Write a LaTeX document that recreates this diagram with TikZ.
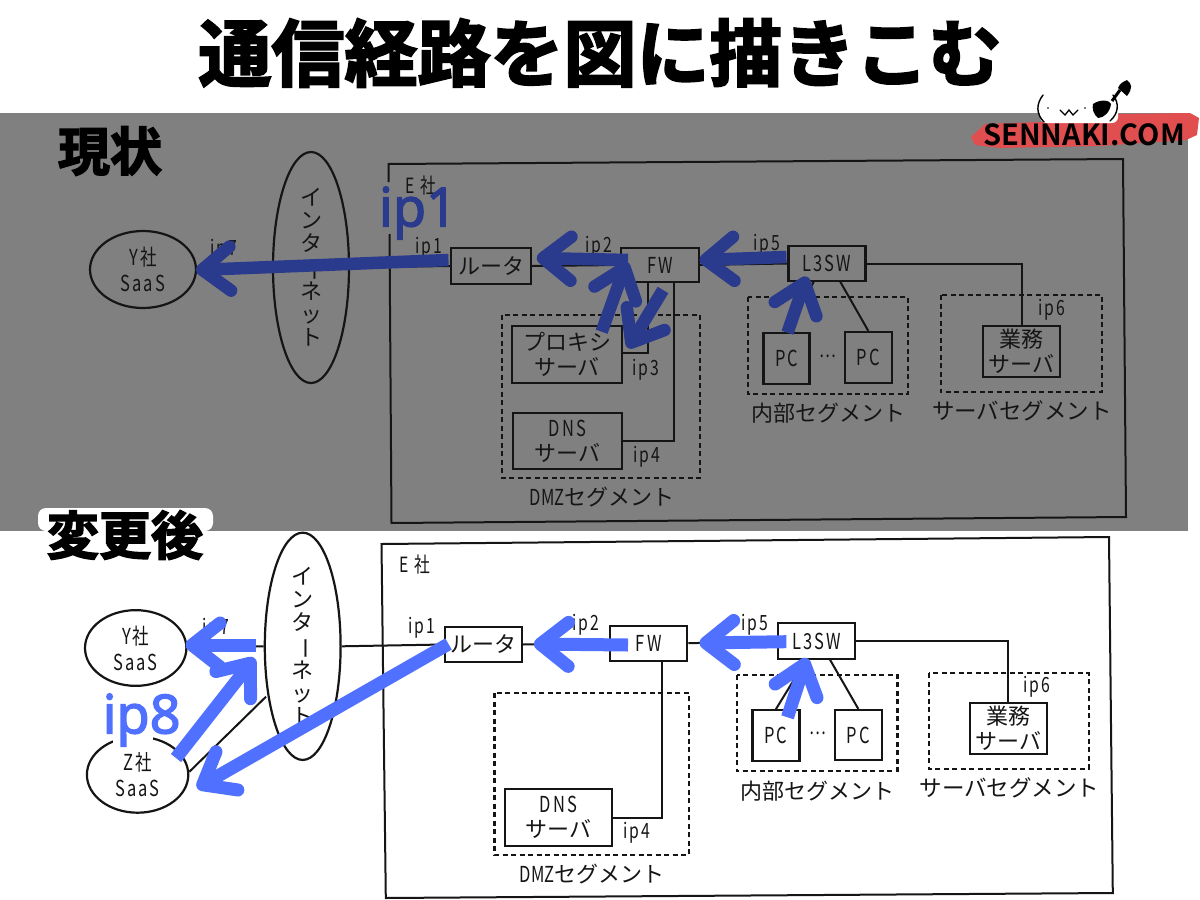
\documentclass[tikz,border=0pt]{standalone}
\usepackage{fontspec}
\usetikzlibrary{arrows.meta,shapes.geometric}
\newfontfamily\scanjp{Noto Sans CJK JP}
\newfontfamily\scannar[FakeStretch=0.75]{Noto Sans CJK JP}
\newfontfamily\scanip[FakeStretch=0.75,LetterSpace=9]{Noto Sans CJK JP}
\newfontfamily\headjp[FakeBold=3]{Noto Sans CJK JP Bold}
\newfontfamily\logofont{Noto Sans CJK JP Bold}
\newfontfamily\bigip[FakeBold=2.4]{Noto Sans}
\definecolor{bandgrey}{HTML}{808080}
\definecolor{inkdark}{HTML}{2A3A8C}
\definecolor{inkbright}{HTML}{5070FF}
\definecolor{brushred}{HTML}{E04E50}
\definecolor{scan}{HTML}{151515}
\tikzset{
  wire/.style={draw=scan,line width=2pt},
  box/.style={draw=scan,line width=2.2pt,inner sep=0pt,align=center,text=scan,rectangle,font=\fontsize{22}{25}\selectfont\scanjp},
  boxlat/.style={box,font=\fontsize{22}{25}\selectfont\scanip},
  cloud/.style={draw=scan,line width=2.2pt,ellipse,inner sep=0pt,align=center,text=scan,font=\fontsize{22}{26}\selectfont\scanip},
  netcloud/.style={cloud,font=\fontsize{22}{23}\selectfont\scanjp},
  seg/.style={draw=scan,line width=2.2pt,dash pattern=on 5pt off 3.5pt},
  lab/.style={text=scan,inner sep=0pt,font=\fontsize{22}{24}\selectfont\scanjp},
  iplab/.style={text=scan,inner sep=0pt,font=\fontsize{21}{22}\selectfont\scanip},
  arrdark/.style={draw=inkdark,line width=12.5pt,-{Straight Barb[round,length=28pt,width=44pt,line width=12.5pt]}},
  arrbright/.style={draw=inkbright,line width=13pt,-{Straight Barb[round,length=28pt,width=44pt,line width=13pt]}},
  heading/.style={text=black,inner sep=0pt,font=\fontsize{52}{56}\selectfont\headjp},
  bigiplab/.style={inner sep=0pt,font=\fontsize{54}{58}\selectfont\bigip},
}
\newcommand{\vertnet}{イ\\ン\\タ\\\rotatebox[origin=c]{-90}{ー}\\ネ\\ッ\\ト}
\begin{document}
\begin{tikzpicture}[x=1pt,y=-1pt]
\useasboundingbox (0,0) rectangle (1200,900);
\fill[white] (0,0) rectangle (1200,900);
\fill[bandgrey] (0,113) rectangle (1188,531);

% title
\node[text=black,inner sep=0pt,font=\fontsize{73}{76}\selectfont\headjp] (title) at (600,53) {通信経路を図に描きこむ};

% logo
\fill[brushred] (971,137) -- (985,124) -- (1040,122) -- (1120,114) -- (1190,113) -- (1199,118) -- (1197,135) -- (1186,140) -- (1100,146) -- (1000,148) -- (975,145) -- cycle;
\fill[white,rounded corners=6pt] (1040,92) rectangle (1118,123);
\draw[black,line width=1.4pt,line cap=round] (1043,95) .. controls (1036,104) and (1036,114) .. (1044,122);
\draw[black,line width=1.4pt,line cap=round] (1113,95) .. controls (1120,104) and (1118,114) .. (1110,121);
\fill[black] (1048,108) circle (0.9pt) (1085,108) circle (0.9pt);
\draw[black,line width=1.3pt,line cap=round] (1060,110) -- (1065,115) -- (1069,110) -- (1073,115) -- (1078,110);
\fill[black] (1093,104) .. controls (1100,99) and (1110,100) .. (1111,104) .. controls (1110,112) and (1104,118) .. (1098,118) .. controls (1093,114) and (1092,108) .. (1093,104) -- cycle;
\draw[black,line width=3pt] (1112,101) -- (1120,90);
\fill[black] (1118,88) .. controls (1120,83) and (1123,82) .. (1127,80) .. controls (1132,84) and (1133,88) .. (1127,96) -- cycle;
\node[text=black,inner sep=0pt,font=\fontsize{29}{30}\selectfont\logofont] (logo) at (1084,135) {SENNAKI.COM};

% ---------- upper panel ----------
\node[heading] (genjo) at (110,151) {現状};
\draw[wire] (388.5,182) -- (388.5,164) -- (1123,159) -- (1126,517) -- (391.5,523) -- (389.5,234);
\node[iplab] (eu) at (421,186) {E 社};

\draw[seg] (501.7,315) rectangle (700,477.7);
\draw[seg] (748,297) rectangle (908,394);
\draw[seg] (940.6,295) rectangle (1102,392);

\node[cloud,minimum width=106pt,minimum height=77pt] (yu) at (143,269.5) {Y社\\SaaS};
\node[netcloud,minimum width=76pt,minimum height=231pt] (iu) at (311,267.5) {\vertnet};
\node[box,minimum width=80pt,minimum height=36pt] (ru) at (491,266) {ルータ};
\node[boxlat,minimum width=77.7pt,minimum height=34.6pt] (fu) at (660,265) {FW};
\node[boxlat,minimum width=77pt,minimum height=35.6pt] (lu) at (827,263.5) {L3SW};
\node[box,minimum width=77.7pt,minimum height=50.7pt] (su) at (1021.5,351.3) {業務\\サーバ};
\node[boxlat,minimum width=46pt,minimum height=51pt] (p1u) at (786.5,358.5) {PC};
\node[boxlat,minimum width=46.6pt,minimum height=51pt] (p2u) at (868.3,357.5) {PC};
\node[box,minimum width=110pt,minimum height=56.7pt] (xu) at (567,354.3) {プロキシ\\サーバ};
\node[box,minimum width=109pt,minimum height=56.3pt] (du) at (567.4,441) {\scanip DNS\\\scanjp サーバ};

\coordinate (c3u) at (648,353);
\coordinate (c4u) at (673.5,441);
\coordinate (lau) at (840,281.3);
\coordinate (lbu) at (814,281.3);
\draw[wire] (yu.east) -- (iu.west);
\draw[wire] (iu.east) -- (ru.west);
\draw[wire] (ru.east) -- (fu.west);
\draw[wire] (fu.east) -- (lu.west);
\draw[wire] (lu.east) -| (su.north);
\draw[wire] (fu.south -| c3u) -- (c3u) -- (c3u -| xu.east);
\draw[wire] (fu.south -| c4u) -- (c4u) -- (du.east);
\draw[wire] (lau) -- (p2u.north);
\draw[wire] (lbu) -- (p1u.north);

\node[iplab] (u7) at (224,250) {ip7};
\node[iplab] (u1) at (428.6,248) {ip1};
\node[iplab] (u2) at (599,246.7) {ip2};
\node[iplab] (u5) at (766.5,245) {ip5};
\node[iplab] (u3) at (645.7,370) {ip3};
\node[iplab] (u4) at (646.7,456.7) {ip4};
\node[iplab] (u6) at (1051.6,310) {ip6};
\node[iplab] (udots) at (828,356) {…};
\node[lab] (dmzu) at (602,497) {\scannar DMZ\scanjp セグメント};
\node[lab] (nu) at (828.5,413) {内部セグメント};
\node[lab,font=\fontsize{22.5}{24}\selectfont\scanjp] (svu) at (1022,411) {サーバセグメント};

\node[bigiplab,text=inkdark] (bigip1) at (418,213) {ip1};

\coordinate (a1s) at (448.5,260); \coordinate (a1t) at (196,270);
\coordinate (a2s) at (628,260);   \coordinate (a2t) at (536.7,258);
\coordinate (a3s) at (601.7,331.7); \coordinate (a3t) at (626.7,261.7);
\coordinate (a4s) at (663,290);   \coordinate (a4t) at (628,348);
\coordinate (a5s) at (786.4,257); \coordinate (a5t) at (699.5,260);
\coordinate (a6s) at (787.5,332.7); \coordinate (a6t) at (806.7,276.7);
\draw[arrdark] (a1s) -- (a1t);
\draw[arrdark] (a2s) -- (a2t);
\draw[arrdark] (a3s) -- (a3t);
\draw[arrdark] (a4s) -- (a4t);
\draw[arrdark] (a5s) -- (a5t);
\draw[arrdark] (a6s) -- (a6t);

% ---------- lower panel ----------
\fill[white,rounded corners=8pt] (38,508) rectangle (213,531);
\node[heading] (henko) at (125,535) {変更後};
\draw[wire] (381.5,544) -- (1109,537) -- (1112.8,893) -- (385.8,898) -- cycle;
\node[iplab] (el) at (415,565) {E 社};

\draw[seg] (494.5,693) rectangle (688.8,855);
\draw[seg] (736.6,675) rectangle (897.4,770.7);
\draw[seg] (929,673.3) rectangle (1088.7,769);

\node[cloud,minimum width=101.4pt,minimum height=75.7pt] (yl) at (135.7,648) {Y社\\SaaS};
\node[cloud,minimum width=101.4pt,minimum height=76pt] (zl) at (137.6,774.7) {Z社\\SaaS};
\node[netcloud,minimum width=75.8pt,minimum height=227.3pt] (il) at (302.7,646.3) {\vertnet};
\node[box,minimum width=76.9pt,minimum height=35.6pt] (rl) at (483.2,644.5) {ルータ};
\node[boxlat,minimum width=77pt,minimum height=35pt] (fl) at (648.8,643.2) {FW};
\node[boxlat,minimum width=76.9pt,minimum height=35.7pt] (ll) at (816.5,641.2) {L3SW};
\node[box,minimum width=76.6pt,minimum height=50.7pt] (sl) at (1008.3,728.7) {業務\\サーバ};
\node[boxlat,minimum width=47pt,minimum height=50.7pt] (p1l) at (775.9,735.6) {PC};
\node[boxlat,minimum width=46.7pt,minimum height=50pt] (p2l) at (858.3,735) {PC};
\node[box,minimum width=107pt,minimum height=57pt] (dl) at (558.5,817.5) {\scanip DNS\\\scanjp サーバ};

\coordinate (c4l) at (662,817.5);
\coordinate (lal) at (829.6,659);
\coordinate (lbl) at (806.7,659);
\coordinate (zil) at (266,696.7);
\coordinate (zzl) at (189.4,771.7);
\draw[wire] (yl.east) -- (il.west);
\draw[wire] (il.east) -- (rl.west);
\draw[wire] (rl.east) -- (fl.west);
\draw[wire] (fl.east) -- (ll.west);
\draw[wire] (ll.east) -| (sl.north);
\draw[wire] (fl.south -| c4l) -- (c4l) -- (dl.east);
\draw[wire] (lal) -- (p2l.north);
\draw[wire] (lbl) -- (p1l.north);
\draw[wire] (zzl) -- (zil);

\fill[white] (113,734) rectangle (153,752);

\node[iplab] (l7) at (216,629) {ip7};
\node[iplab] (l1) at (422,628) {ip1};
\node[iplab] (l2) at (585.5,625) {ip2};
\node[iplab] (l5) at (755,625) {ip5};
\node[iplab] (l4) at (637,833) {ip4};
\node[iplab] (l6) at (1037,686.7) {ip6};
\node[iplab] (ldots) at (818,733.5) {…};
\node[lab] (dmzl) at (592,874) {\scannar DMZ\scanjp セグメント};
\node[lab] (nl) at (817.4,790.7) {内部セグメント};
\node[lab,font=\fontsize{22.5}{24}\selectfont\scanjp] (svl) at (1009.5,788) {サーバセグメント};

\node[bigiplab,text=inkbright] (bigip8) at (141.6,720) {ip8};

\coordinate (b1s) at (255.6,645); \coordinate (b1t) at (185.6,645);
\coordinate (b2s) at (176,758);   \coordinate (b2t) at (254.5,658);
\coordinate (b3s) at (448.5,644); \coordinate (b3t) at (197,788);
\coordinate (b4s) at (628,645);   \coordinate (b4t) at (533.9,644);
\coordinate (b5s) at (786.4,641.7); \coordinate (b5t) at (699.5,643);
\coordinate (b6s) at (787.5,717.3); \coordinate (b6t) at (806.7,658);
\draw[arrbright] (b1s) -- (b1t);
\draw[arrbright] (b2s) -- (b2t);
\draw[arrbright] (b3s) -- (b3t);
\draw[arrbright] (b4s) -- (b4t);
\draw[arrbright] (b5s) -- (b5t);
\draw[arrbright] (b6s) -- (b6t);
\end{tikzpicture}
\end{document}
